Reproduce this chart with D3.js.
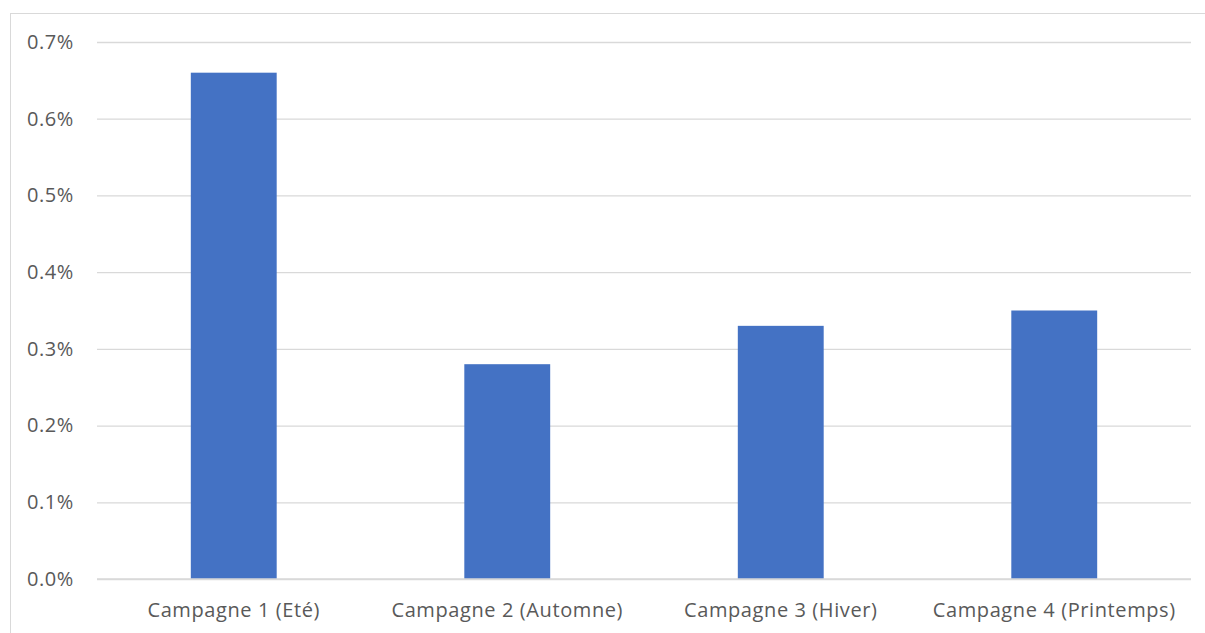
<!DOCTYPE html>
<html>
<head>
<meta charset="utf-8">
<script src="https://cdn.jsdelivr.net/npm/d3@7"></script>
<style>
  html, body { margin: 0; padding: 0; background: #fff; }
  svg { display: block; }
  text { font-family: "Open Sans", "Noto Sans", sans-serif; fill: #595959; }
</style>
</head>
<body>
<svg id="chart" width="1205" height="633"></svg>
<script>
// Categories and values (fractions of 1)
const categories = ["Campagne 1 (Eté)", "Campagne 2 (Automne)", "Campagne 3 (Hiver)", "Campagne 4 (Printemps)"];
const values = [0.0066, 0.0028, 0.0033, 0.0035];
const yTicks = [0, 0.001, 0.002, 0.003, 0.004, 0.005, 0.006, 0.007];

const svg = d3.select("#chart");
const W = 1205, H = 633;
const plot = { left: 97, right: 1191, top: 42, bottom: 579 };

// Chart frame
svg.append("rect")
  .attr("x", 10.5).attr("y", 13.5)
  .attr("width", W + 10).attr("height", H + 10)
  .attr("fill", "#fff").attr("stroke", "#d9d9d9").attr("stroke-width", 1);

const x = d3.scaleBand()
  .domain(categories)
  .range([plot.left, plot.right])
  .paddingInner(0.686)
  .paddingOuter(0.343);

const y = d3.scaleLinear()
  .domain([0, 0.007])
  .range([plot.bottom, plot.top]);

// Horizontal gridlines with percentage labels
const yAxis = d3.axisLeft(y)
  .tickValues(yTicks)
  .tickFormat(d3.format(".1%"))
  .tickSize(-(plot.right - plot.left))
  .tickPadding(23);

const gy = svg.append("g")
  .attr("transform", `translate(${plot.left},0)`)
  .call(yAxis);
gy.select(".domain").remove();
gy.selectAll(".tick line").attr("stroke", "#d9d9d9").attr("stroke-width", 1.3);
gy.selectAll(".tick text")
  .attr("font-size", 20)
  .attr("letter-spacing", 0.6)
  .style("fill", "#595959");

// Bars
svg.append("g")
  .selectAll("rect")
  .data(values)
  .join("rect")
  .attr("x", (d, i) => x(categories[i]))
  .attr("y", d => y(d))
  .attr("width", x.bandwidth())
  .attr("height", d => y(0) - y(d))
  .attr("fill", "#4472c4");

// Category labels
const xAxis = d3.axisBottom(x).tickSize(0).tickPadding(24);
const gx = svg.append("g")
  .attr("transform", `translate(0,${plot.bottom})`)
  .call(xAxis);
gx.select(".domain").remove();
gx.selectAll(".tick text")
  .attr("font-size", 20)
  .attr("letter-spacing", 0.6)
  .style("fill", "#595959");

// Baseline drawn over the bars' feet
svg.append("line")
  .attr("x1", plot.left).attr("x2", plot.right)
  .attr("y1", y(0)).attr("y2", y(0))
  .attr("stroke", "#d9d9d9").attr("stroke-width", 1.3);
</script>
</body>
</html>
